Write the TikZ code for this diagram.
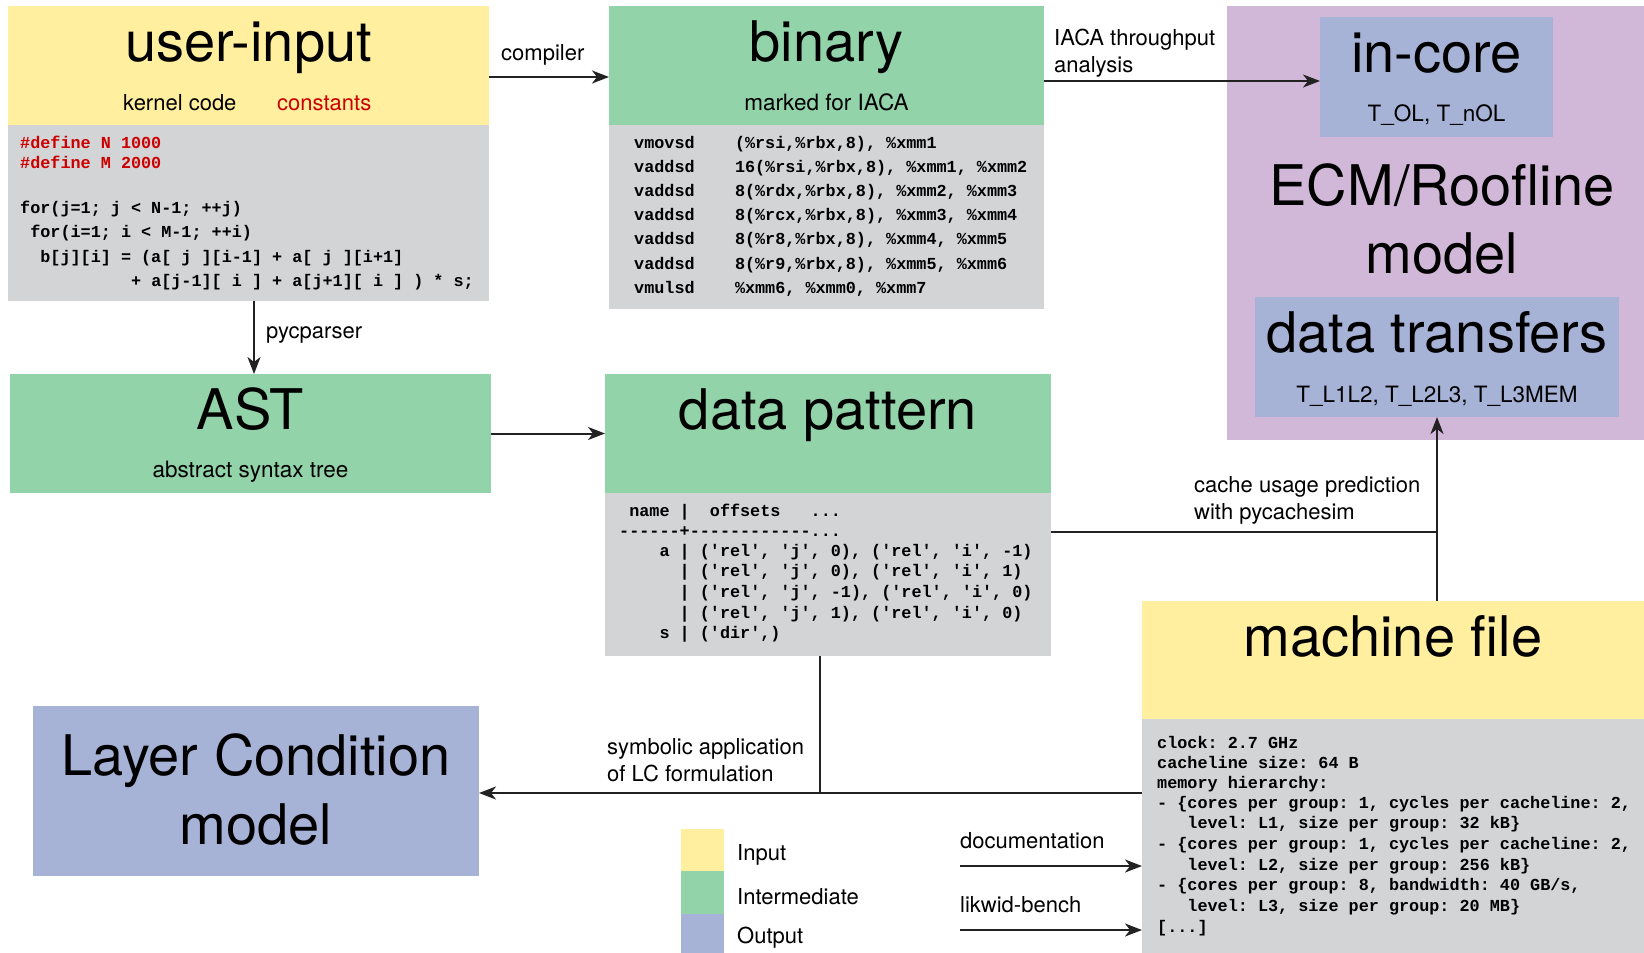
\documentclass[tikz,border=0pt]{standalone}
\usepackage{fontspec}
\setmainfont{TeX Gyre Heros}
\setmonofont{Liberation Mono}
\usetikzlibrary{arrows.meta}

\definecolor{inyellow}{HTML}{FFEF9F}
\definecolor{midgreen}{HTML}{92D3A9}
\definecolor{outblue}{HTML}{A6B2D6}
\definecolor{codegray}{HTML}{D3D4D6}
\definecolor{ecmpurple}{HTML}{D2B8D8}
\definecolor{defred}{HTML}{CC0000}
\definecolor{wirecol}{HTML}{222222}

\tikzset{
  panel/.style 2 args={draw=none, inner sep=0pt, outer sep=0pt, anchor=north west,
    minimum width=#1pt, minimum height=#2pt},
  title/.style={font=\fontsize{56}{62}\selectfont, anchor=base, inner sep=0pt},
  subtitle/.style={font=\fontsize{22.5}{27}\selectfont, anchor=base, inner sep=0pt},
  lbl/.style={font=\fontsize{22}{27}\selectfont, anchor=base west, inner sep=0pt},
  code/.style={font=\ttfamily\bfseries\fontsize{16.8}{20}\selectfont, anchor=base west, inner sep=0pt},
  wire/.style={draw=wirecol, line width=2pt},
  arr/.style={wire, -{Stealth[length=17pt, width=13pt, inset=5pt]}},
}

\begin{document}
\begin{tikzpicture}[x=1pt, y=-1pt]
\useasboundingbox (0,0) rectangle (1644,953);

% ---------- panels ----------
\node[panel={481}{119}, fill=inyellow] (uiH) at (8,6) {};
\node[panel={481}{176}, fill=codegray] (uiB) at (8,125) {};
\node[panel={435}{119}, fill=midgreen] (binH) at (609,6) {};
\node[panel={435}{184}, fill=codegray] (binB) at (609,125) {};
\node[panel={417}{434}, fill=ecmpurple] (ecm) at (1227,6) {};
\node[panel={233}{120}, fill=outblue] (core) at (1320,17) {};
\node[panel={364}{120}, fill=outblue] (dt) at (1255,297) {};
\node[panel={481}{119}, fill=midgreen] (astH) at (10,374) {};
\node[panel={446}{119}, fill=midgreen] (dpH) at (605,374) {};
\node[panel={446}{163}, fill=codegray] (dpB) at (605,493) {};
\node[panel={502}{118}, fill=inyellow] (mfH) at (1142,601) {};
\node[panel={502}{234}, fill=codegray] (mfB) at (1142,719) {};
\node[panel={446}{170}, fill=outblue] (lc) at (33,706) {};

% legend swatches
\node[panel={43}{42}, fill=inyellow] (legIn) at (681,829) {};
\node[panel={43}{43}, fill=midgreen] (legMid) at (681,871) {};
\node[panel={43}{39}, fill=outblue] (legOut) at (681,914) {};

% ---------- titles ----------
\node[title] (tUi) at (248.5,61) {user-input};
\node[lbl] (tKernel) at (123,110) {kernel code};
\node[lbl, text=defred] (tConst) at (277,110) {constants};

\node[title] (tBin) at (826.5,61) {binary};
\node[subtitle] (tMarked) at (826.5,110) {marked for IACA};

\node[title] (tCore) at (1436.5,72) {in-core};
\node[subtitle] (tCoreSub) at (1436.5,121) {T\_OL, T\_nOL};
\node[title] (tEcm1) at (1442,205) {ECM/Roofline};
\node[title] (tEcm2) at (1442,273) {model};
\node[title] (tDt) at (1437,352) {data transfers};
\node[subtitle] (tDtSub) at (1437,402) {T\_L1L2, T\_L2L3, T\_L3MEM};

\node[title] (tAst) at (250.5,429) {AST};
\node[subtitle] (tAstSub) at (250.5,477) {abstract syntax tree};
\node[title] (tDp) at (828,429) {data pattern};
\node[title] (tMf) at (1393,656) {machine file};
\node[title] (tLc1) at (256,775) {Layer Condition};
\node[title] (tLc2) at (256,844) {model};

% ---------- code listings ----------
\node[code, text=defred] (ui1) at (20,148) {\#define~N~1000};
\node[code, text=defred] (ui2) at (20,168) {\#define~M~2000};
\node[code] (ui3) at (20,213) {for(j=1;~j~<~N-1;~++j)};
\node[code] (ui4) at (20,237) {~for(i=1;~i~<~M-1;~++i)};
\node[code] (ui5) at (20,262) {~~b[j][i]~=~(a[~j~][i-1]~+~a[~j~][i+1]};
\node[code] (ui6) at (20,286) {~~~~~~~~~~~+~a[j-1][~i~]~+~a[j+1][~i~]~)~*~s;};

\node[code] (bin1) at (634,148) {vmovsd~~~~(\%rsi,\%rbx,8),~\%xmm1};
\node[code] (bin2) at (634,172) {vaddsd~~~~16(\%rsi,\%rbx,8),~\%xmm1,~\%xmm2};
\node[code] (bin3) at (634,196) {vaddsd~~~~8(\%rdx,\%rbx,8),~\%xmm2,~\%xmm3};
\node[code] (bin4) at (634,220.5) {vaddsd~~~~8(\%rcx,\%rbx,8),~\%xmm3,~\%xmm4};
\node[code] (bin5) at (634,244.5) {vaddsd~~~~8(\%r8,\%rbx,8),~\%xmm4,~\%xmm5};
\node[code] (bin6) at (634,269.5) {vaddsd~~~~8(\%r9,\%rbx,8),~\%xmm5,~\%xmm6};
\node[code] (bin7) at (634,293) {vmulsd~~~~\%xmm6,~\%xmm0,~\%xmm7};

\node[code] (dp1) at (619,516) {~name~|~~offsets~~~...};
\node[code] (dp2) at (619,536) {------+------------...};
\node[code] (dp3) at (619,556) {~~~~a~|~('rel',~'j',~0),~('rel',~'i',~-1)};
\node[code] (dp4) at (619,576) {~~~~~~|~('rel',~'j',~0),~('rel',~'i',~1)};
\node[code] (dp5) at (619,597) {~~~~~~|~('rel',~'j',~-1),~('rel',~'i',~0)};
\node[code] (dp6) at (619,618) {~~~~~~|~('rel',~'j',~1),~('rel',~'i',~0)};
\node[code] (dp7) at (619,638) {~~~~s~|~('dir',)};

\node[code] (mf1) at (1157,748) {clock:~2.7~GHz};
\node[code] (mf2) at (1157,768) {cacheline~size:~64~B};
\node[code] (mf3) at (1157,788) {memory~hierarchy:};
\node[code] (mf4) at (1157,808) {-~\{cores~per~group:~1,~cycles~per~cacheline:~2,};
\node[code] (mf5) at (1157,828) {~~~level:~L1,~size~per~group:~32~kB\}};
\node[code] (mf6) at (1157,849) {-~\{cores~per~group:~1,~cycles~per~cacheline:~2,};
\node[code] (mf7) at (1157,870) {~~~level:~L2,~size~per~group:~256~kB\}};
\node[code] (mf8) at (1157,890) {-~\{cores~per~group:~8,~bandwidth:~40~GB/s,};
\node[code] (mf9) at (1157,911) {~~~level:~L3,~size~per~group:~20~MB\}};
\node[code] (mf10) at (1157,932) {[...]};

% ---------- connector labels ----------
\node[lbl] (lCompiler) at (501,60) {compiler};
\node[lbl] (lIaca1) at (1054,45) {IACA throughput};
\node[lbl] (lIaca2) at (1054,72) {analysis};
\node[lbl] (lPyc) at (266,338) {pycparser};
\node[lbl] (lCache1) at (1194,492) {cache usage prediction};
\node[lbl] (lCache2) at (1194,519) {with pycachesim};
\node[lbl] (lSym1) at (607,754) {symbolic application};
\node[lbl] (lSym2) at (607,781) {of LC formulation};
\node[lbl] (lDoc) at (960,848) {documentation};
\node[lbl] (lLik) at (960,912) {likwid-bench};

% legend labels
\node[lbl] (lIn) at (737,860) {Input};
\node[lbl] (lMid) at (737,904) {Intermediate};
\node[lbl] (lOut) at (737,943) {Output};

% ---------- connectors ----------
\coordinate (uiOut) at ([yshift=-11.5pt]uiH.east);
\draw[arr] (uiOut) -- (uiOut -| binH.west);

\coordinate (binOut) at ([yshift=-15.5pt]binH.east);
\draw[arr] (binOut) -- (binOut -| core.west);

\coordinate (uiDown) at ([xshift=5.5pt]uiB.south);
\draw[arr] (uiDown) -- (uiDown |- astH.north);

\draw[arr] (astH.east) -- (astH.east -| dpH.west);

\coordinate (dpOut) at ([yshift=43pt]dpB.east);
\draw[wire] (dpOut) -- (dpOut -| dt.south);
\draw[arr] (mfH.north -| dt.south) -- (dt.south);

\coordinate (mfIn) at ([yshift=43pt]mfB.west);
\coordinate (dpDown) at ([xshift=-8pt]dpB.south);
\draw[wire] (dpDown) -- (dpDown |- mfIn);
\draw[arr] (mfIn) -- (mfIn -| lc.east);

\coordinate (docTail) at (960,866);
\draw[arr] (docTail) -- (docTail -| mfB.west);
\coordinate (likTail) at (960,930);
\draw[arr] (likTail) -- (likTail -| mfB.west);
\end{tikzpicture}
\end{document}
